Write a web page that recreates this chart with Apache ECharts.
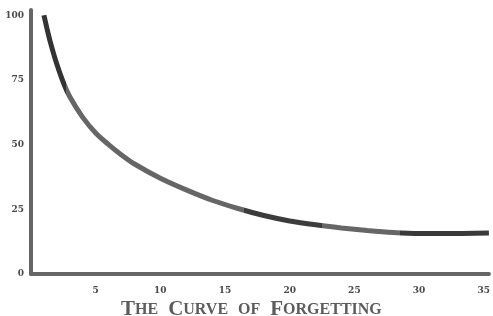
<!DOCTYPE html>
<html>
<head>
<meta charset="utf-8">
<script src="https://cdn.jsdelivr.net/npm/echarts@6/dist/echarts.min.js"></script>
<style>
  html, body { margin: 0; padding: 0; background: #fff; }
  #chart { width: 493px; height: 316px; }
</style>
</head>
<body>
<div id="chart"></div>
<script>
// days elapsed vs. percent retained
var days = [1, 1.25, 1.5, 2, 2.5, 3, 4, 5, 6, 7, 8, 10, 12, 14, 16, 18, 20, 22, 24, 26, 28, 30, 32, 35.4];
var retained = [100, 94.5, 89.5, 81, 74, 68.5, 60.5, 54.5, 50, 46, 42.5, 37, 32.5, 28.5, 25.3, 22.6, 20.5, 19, 17.8, 16.8, 16, 15.6, 15.6, 15.8];
var yTicks = [0, 25, 50, 75, 100];
var xTicks = [5, 10, 15, 20, 25, 30, 35];

var points = days.map(function (d, i) { return [d, retained[i]]; });

var ink = '#666';
var labelFont = { color: '#4a4a4a', fontFamily: 'DejaVu Serif', fontWeight: 'bold', fontSize: 9 };

var chart = echarts.init(document.getElementById('chart'));
chart.setOption({
    backgroundColor: '#fff',
    animation: false,
    title: {
        left: 116,
        top: 294,
        text: '{b|T}{s|HE}  {b|C}{s|URVE}  {s|OF}  {b|F}{s|ORGETTING}',
        textStyle: {
            rich: {
                b: { fontFamily: 'Liberation Serif', fontSize: 21, color: '#5c5c5c' },
                s: { fontFamily: 'Liberation Serif', fontSize: 16, color: '#5c5c5c' }
            }
        }
    },
    grid: { left: 31, right: 3, top: 10, bottom: 42 },
    xAxis: {
        type: 'value',
        min: 0,
        max: 35.4,
        interval: 5,
        splitLine: { show: false },
        axisTick: { show: false },
        axisLine: { lineStyle: { color: ink, width: 4 } },
        axisLabel: Object.assign({
            margin: 12,
            showMaxLabel: false,
            formatter: function (v) { return xTicks.indexOf(v) >= 0 ? String(v) : ''; }
        }, labelFont)
    },
    yAxis: {
        type: 'value',
        min: 0,
        max: 102,
        interval: 25,
        splitLine: { show: false },
        axisTick: { show: false },
        axisLine: { show: true, lineStyle: { color: ink, width: 4 } },
        axisLabel: Object.assign({
            margin: 7,
            showMaxLabel: false,
            formatter: function (v) { return yTicks.indexOf(v) >= 0 ? String(v) : ''; }
        }, labelFont)
    },
    visualMap: {
        show: false,
        type: 'piecewise',
        dimension: 0,
        pieces: [
            { lt: 2.7, color: '#333' },
            { gte: 2.7, lt: 16.5, color: ink },
            { gte: 16.5, lt: 22.5, color: '#3c3c3c' },
            { gte: 22.5, lt: 28.5, color: ink },
            { gte: 28.5, color: '#3a3a3a' }
        ]
    },
    series: [{
        type: 'line',
        data: points,
        smooth: 0.3,
        showSymbol: false,
        lineStyle: { width: 5 }
    }]
});
</script>
</body>
</html>
